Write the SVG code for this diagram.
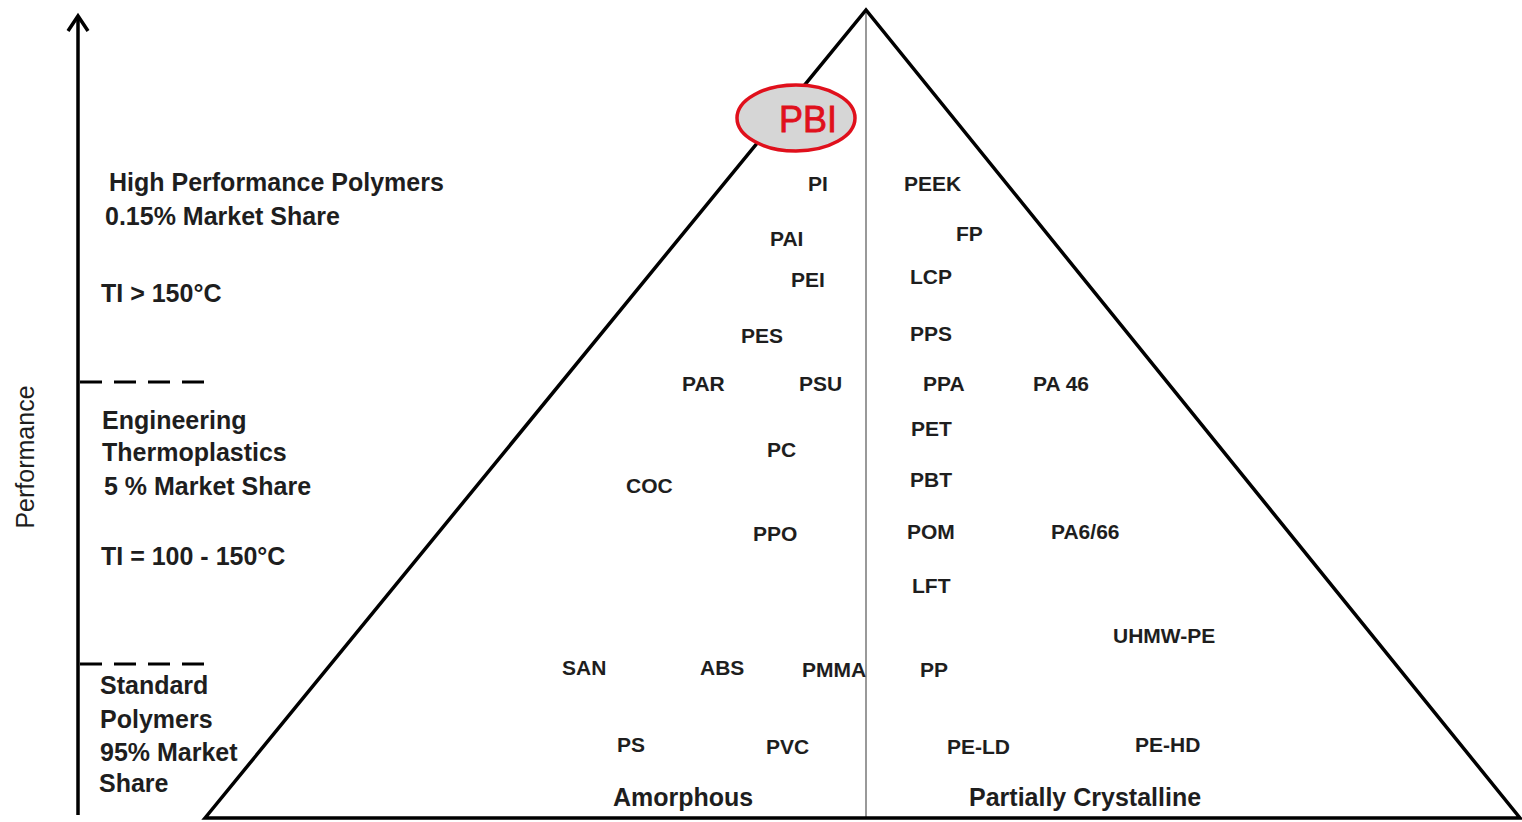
<svg xmlns="http://www.w3.org/2000/svg" width="1522" height="822" viewBox="0 0 1522 822">
<style>
.p{font-family:"Liberation Sans",Arial,sans-serif;font-weight:bold;font-size:21px;fill:#1e1e1e}
.l{font-family:"Liberation Sans",Arial,sans-serif;font-weight:bold;font-size:25px;fill:#1e1e1e}
.dash{stroke:#000;stroke-width:3;stroke-dasharray:22,12;fill:none}
</style>
<rect width="1522" height="822" fill="#fff"/>
<g id="axis">
<line x1="78" y1="815" x2="78" y2="18" stroke="#000" stroke-width="3.5"/>
<path d="M68,31 L78,16 L88,31" fill="none" stroke="#000" stroke-width="3.5"/>
<line class="dash" x1="80" y1="382" x2="205" y2="382"/>
<line class="dash" x1="80" y1="664" x2="205" y2="664"/>
<text transform="translate(34,457) rotate(-90)" text-anchor="middle" style="font-family:'Liberation Sans',Arial,sans-serif;font-size:25px;fill:#1e1e1e">Performance</text>
</g>
<g id="pyramid">
<line x1="866" y1="10" x2="866" y2="818" stroke="#777" stroke-width="1.5"/>
<path d="M205,818 L866,10 L1520,818 Z" fill="none" stroke="#000" stroke-width="3.5" stroke-linejoin="miter"/>
</g>
<g id="pbi">
<ellipse cx="796" cy="118" rx="59" ry="33" fill="#d6d6d6" stroke="#e0101c" stroke-width="3.5"/>
<text x="779" y="132" style="font-family:'Liberation Sans',Arial,sans-serif;font-size:36px;fill:#e0101c;stroke:#e0101c;stroke-width:0.8">PBI</text>
</g>
<g id="categories">
<text class="l" x="109" y="191">High  Performance Polymers</text>
<text class="l" x="105" y="225">0.15% Market Share</text>
<text class="l" x="101" y="302">TI &gt; 150°C</text>
<text class="l" x="102" y="429">Engineering</text>
<text class="l" x="102" y="461">Thermoplastics</text>
<text class="l" x="104" y="495">5 % Market Share</text>
<text class="l" x="101" y="565">TI = 100 - 150°C</text>
<text class="l" x="100" y="694">Standard</text>
<text class="l" x="100" y="728">Polymers</text>
<text class="l" x="100" y="761">95% Market</text>
<text class="l" x="99" y="792">Share</text>
<text class="l" x="613" y="806">Amorphous</text>
<text class="l" x="969" y="806">Partially Crystalline</text>
</g>
<g id="polymers">
<text class="p" x="808" y="191">PI</text>
<text class="p" x="904" y="191">PEEK</text>
<text class="p" x="770" y="246">PAI</text>
<text class="p" x="956" y="241">FP</text>
<text class="p" x="791" y="287">PEI</text>
<text class="p" x="910" y="284">LCP</text>
<text class="p" x="741" y="343">PES</text>
<text class="p" x="910" y="341">PPS</text>
<text class="p" x="682" y="391">PAR</text>
<text class="p" x="799" y="391">PSU</text>
<text class="p" x="923" y="391">PPA</text>
<text class="p" x="1033" y="391">PA 46</text>
<text class="p" x="911" y="436">PET</text>
<text class="p" x="767" y="457">PC</text>
<text class="p" x="910" y="487">PBT</text>
<text class="p" x="626" y="493">COC</text>
<text class="p" x="907" y="539">POM</text>
<text class="p" x="1051" y="539">PA6/66</text>
<text class="p" x="753" y="541">PPO</text>
<text class="p" x="912" y="593">LFT</text>
<text class="p" x="1113" y="643">UHMW-PE</text>
<text class="p" x="562" y="675">SAN</text>
<text class="p" x="700" y="675">ABS</text>
<text class="p" x="802" y="677">PMMA</text>
<text class="p" x="920" y="677">PP</text>
<text class="p" x="617" y="752">PS</text>
<text class="p" x="766" y="754">PVC</text>
<text class="p" x="947" y="754">PE-LD</text>
<text class="p" x="1135" y="752">PE-HD</text>
</g>
</svg>
